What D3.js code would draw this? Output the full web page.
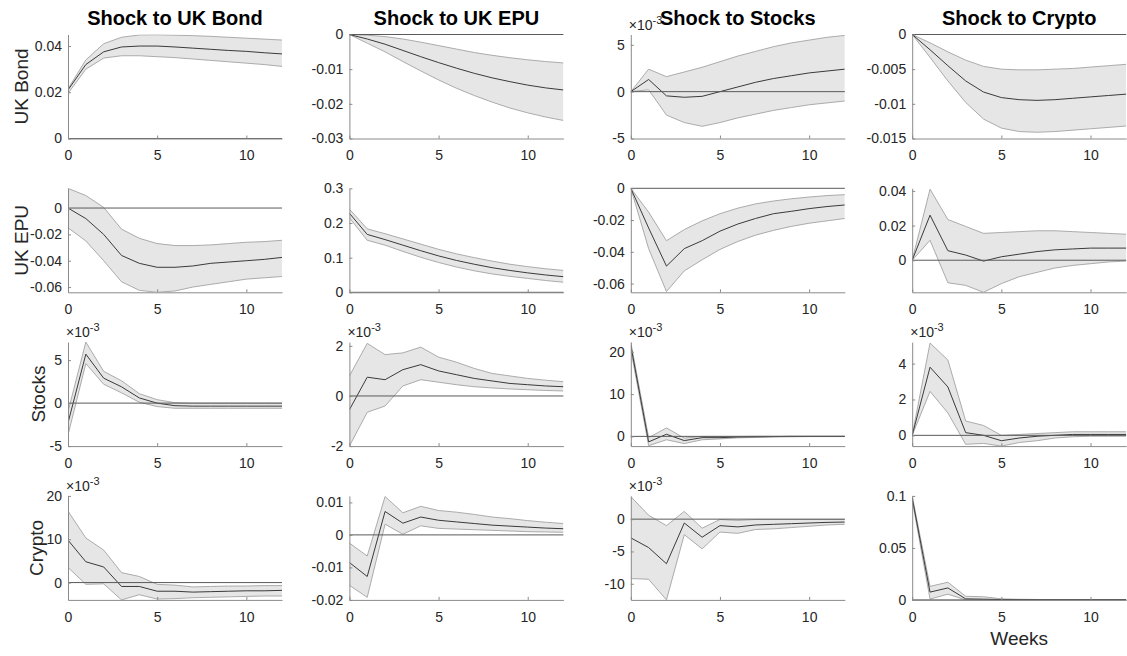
<!DOCTYPE html>
<html>
<head>
<meta charset="utf-8">
<script src="https://cdn.jsdelivr.net/npm/d3@7"></script>
<style>
  body { margin: 0; background: #fff; }
  svg { display: block; font-family: "Liberation Sans", Arial, Helvetica, sans-serif; }
</style>
</head>
<body>
<svg id="chart" width="1127" height="656"></svg>
<script>
// Horizon (weeks after the shock)
const weeks = [0, 1, 2, 3, 4, 5, 6, 7, 8, 9, 10, 11, 12];
const shockTitles = ["Shock to UK Bond", "Shock to UK EPU", "Shock to Stocks", "Shock to Crypto"];
const responseNames = ["UK Bond", "UK EPU", "Stocks", "Crypto"];

// ---- Response of UK Bond ----
const bondBondMid = [0.021, 0.032, 0.0375, 0.0396, 0.04, 0.04, 0.0396, 0.0391, 0.0386, 0.0381, 0.0377, 0.0371, 0.0366];
const bondBondHi  = [0.0215, 0.0340, 0.0410, 0.0438, 0.0448, 0.0449, 0.0447, 0.0445, 0.0442, 0.0438, 0.0434, 0.0430, 0.0426];
const bondBondLo  = [0.0195, 0.0300, 0.0348, 0.0358, 0.0358, 0.0354, 0.0350, 0.0344, 0.0338, 0.0332, 0.0326, 0.0320, 0.0312];

const bondEpuMid = [0, -0.0013, -0.0028, -0.0046, -0.0064, -0.0081, -0.0097, -0.0112, -0.0125, -0.0136, -0.0146, -0.0154, -0.0160];
const bondEpuHi  = [0, -0.0002, -0.0006, -0.0013, -0.0022, -0.0032, -0.0042, -0.0052, -0.0060, -0.0067, -0.0073, -0.0078, -0.0082];
const bondEpuLo  = [0, -0.0025, -0.0050, -0.0078, -0.0105, -0.0131, -0.0155, -0.0176, -0.0195, -0.0212, -0.0226, -0.0238, -0.0248];

// x10^-3
const bondStocksMid = [0, 1.3, -0.45, -0.6, -0.5, 0.0, 0.5, 1.0, 1.4, 1.7, 2.0, 2.2, 2.4];
const bondStocksHi  = [0, 2.4, 1.6, 2.1, 2.6, 3.2, 3.8, 4.3, 4.8, 5.2, 5.5, 5.8, 6.0];
const bondStocksLo  = [0, 0.2, -2.5, -3.3, -3.7, -3.3, -2.8, -2.4, -2.0, -1.7, -1.4, -1.2, -1.0];

const bondCryptoMid = [0, -0.0022, -0.0045, -0.0067, -0.0083, -0.0091, -0.0094, -0.0095, -0.0094, -0.0092, -0.0090, -0.0088, -0.0086];
const bondCryptoHi  = [0, -0.0012, -0.0025, -0.0037, -0.0046, -0.0050, -0.0051, -0.0051, -0.0050, -0.0049, -0.0047, -0.0045, -0.0043];
const bondCryptoLo  = [0, -0.0033, -0.0067, -0.0098, -0.0122, -0.0135, -0.0140, -0.0141, -0.0140, -0.0138, -0.0136, -0.0134, -0.0132];

// ---- Response of UK EPU ----
const epuBondMid = [0, -0.008, -0.020, -0.036, -0.042, -0.045, -0.045, -0.044, -0.042, -0.041, -0.040, -0.039, -0.0375];
const epuBondHi  = [0.015, 0.0095, 0.0005, -0.016, -0.023, -0.027, -0.0285, -0.0285, -0.028, -0.027, -0.026, -0.0255, -0.0245];
const epuBondLo  = [-0.015, -0.025, -0.040, -0.056, -0.0625, -0.064, -0.063, -0.060, -0.058, -0.056, -0.054, -0.053, -0.052];

const epuEpuMid = [0.228, 0.167, 0.152, 0.136, 0.120, 0.105, 0.092, 0.081, 0.071, 0.063, 0.056, 0.050, 0.045];
const epuEpuHi  = [0.240, 0.183, 0.169, 0.154, 0.139, 0.124, 0.111, 0.100, 0.090, 0.081, 0.074, 0.068, 0.063];
const epuEpuLo  = [0.215, 0.150, 0.136, 0.118, 0.101, 0.086, 0.073, 0.062, 0.053, 0.046, 0.040, 0.034, 0.029];

const epuStocksMid = [0, -0.025, -0.049, -0.038, -0.033, -0.027, -0.0225, -0.019, -0.016, -0.0145, -0.0128, -0.0115, -0.0105];
const epuStocksHi  = [0, -0.015, -0.033, -0.026, -0.0205, -0.016, -0.0125, -0.0098, -0.0080, -0.0066, -0.0055, -0.0046, -0.0040];
const epuStocksLo  = [0, -0.038, -0.065, -0.052, -0.045, -0.0385, -0.0335, -0.0295, -0.0265, -0.024, -0.022, -0.0205, -0.019];

const epuCryptoMid = [0, 0.026, 0.0055, 0.003, -0.0005, 0.002, 0.0035, 0.005, 0.006, 0.0065, 0.007, 0.007, 0.007];
const epuCryptoHi  = [0, 0.041, 0.0235, 0.0195, 0.0155, 0.016, 0.0165, 0.017, 0.017, 0.0165, 0.016, 0.0155, 0.015];
const epuCryptoLo  = [0, 0.0115, -0.013, -0.0145, -0.0185, -0.0135, -0.0095, -0.007, -0.0045, -0.003, -0.002, -0.001, -0.0005];

// ---- Response of Stocks (all x10^-3) ----
const stocksBondMid = [-2.3, 5.7, 2.9, 1.9, 0.6, 0.0, -0.3, -0.35, -0.35, -0.35, -0.35, -0.35, -0.35];
const stocksBondHi  = [-1.0, 7.1, 3.7, 2.6, 1.1, 0.4, 0.05, 0.0, 0.0, 0.0, 0.0, 0.0, 0.0];
const stocksBondLo  = [-3.7, 4.6, 2.2, 1.2, 0.1, -0.4, -0.6, -0.6, -0.6, -0.6, -0.6, -0.6, -0.6];

const stocksEpuMid = [-0.55, 0.75, 0.65, 1.05, 1.25, 1.0, 0.85, 0.7, 0.6, 0.5, 0.45, 0.4, 0.37];
const stocksEpuHi  = [0.8, 2.1, 1.65, 1.72, 1.95, 1.55, 1.35, 1.1, 0.9, 0.8, 0.7, 0.63, 0.57];
const stocksEpuLo  = [-2.0, -0.65, -0.4, 0.4, 0.65, 0.55, 0.45, 0.37, 0.32, 0.28, 0.25, 0.22, 0.2];

const stocksStocksMid = [21.5, -1.3, 0.5, -1.0, -0.3, -0.3, -0.15, -0.1, -0.05, 0, 0, 0, 0];
const stocksStocksHi  = [22.3, -0.3, 2.0, -0.4, 0, 0, 0, 0.05, 0.05, 0.05, 0.05, 0.05, 0.05];
const stocksStocksLo  = [20.5, -2.2, -0.8, -1.7, -0.8, -0.6, -0.35, -0.25, -0.15, -0.1, -0.05, -0.05, -0.05];

const stocksCryptoMid = [0, 3.8, 2.7, 0.15, 0, -0.3, -0.15, -0.05, 0.0, 0.05, 0.05, 0.05, 0.05];
const stocksCryptoHi  = [0, 5.15, 4.2, 0.8, 0.55, 0.0, 0.05, 0.1, 0.15, 0.2, 0.2, 0.2, 0.2];
const stocksCryptoLo  = [0, 2.45, 1.25, -0.5, -0.45, -0.6, -0.4, -0.3, -0.15, -0.08, -0.05, -0.05, -0.05];

// ---- Response of Crypto ----
// x10^-3
const cryptoBondMid = [9.8, 4.8, 3.6, -0.9, -0.9, -2.0, -2.0, -2.2, -2.1, -2.0, -1.9, -1.9, -1.8];
const cryptoBondHi  = [16.5, 10.3, 7.5, 2.3, 1.4, -0.4, -0.6, -1.0, -0.9, -0.8, -0.8, -0.7, -0.7];
const cryptoBondLo  = [3.5, -0.4, -0.3, -4.0, -2.8, -3.8, -3.7, -3.5, -3.4, -3.3, -3.2, -3.1, -3.1];

const cryptoEpuMid = [-0.0085, -0.0128, 0.0072, 0.0036, 0.0055, 0.0045, 0.004, 0.0035, 0.003, 0.0027, 0.0024, 0.0021, 0.0019];
const cryptoEpuHi  = [-0.0025, -0.0065, 0.0118, 0.0068, 0.0088, 0.0075, 0.007, 0.0063, 0.0055, 0.005, 0.0044, 0.0039, 0.0035];
const cryptoEpuLo  = [-0.0155, -0.0192, 0.0033, 0.0002, 0.0028, 0.002, 0.0018, 0.0016, 0.0014, 0.0012, 0.001, 0.0009, 0.0008];

// x10^-3
const cryptoStocksMid = [-2.9, -4.4, -6.9, -0.6, -2.8, -1.0, -1.2, -0.9, -0.8, -0.7, -0.6, -0.5, -0.45];
const cryptoStocksHi  = [3.5, 0.6, -1.0, 1.2, -1.4, -0.05, -0.2, -0.05, -0.05, -0.05, -0.05, -0.05, -0.05];
const cryptoStocksLo  = [-9.2, -9.3, -12.5, -2.4, -4.6, -2.0, -2.2, -1.6, -1.5, -1.3, -1.1, -0.9, -0.8];

const cryptoCryptoMid = [0.098, 0.0075, 0.0115, 0.001, 0.0007, 0.0003, 0.0002, 0.0001, 0.0001, 0.0001, 0.0001, 0.0001, 0.0001];
const cryptoCryptoHi  = [0.100, 0.013, 0.017, 0.0035, 0.003, 0.001, 0.0006, 0.0004, 0.0003, 0.0002, 0.0002, 0.0002, 0.0002];
const cryptoCryptoLo  = [0.096, 0.0008, 0.0055, 0, 0, 0, 0, 0, 0, 0, 0, 0, 0];

// Axis limits, tick values and exponent for each row (response) x column (shock)
const yLimits = [
  [[0, 0.045], [-0.03, 0], [-5, 6.1], [-0.015, 0]],
  [[-0.064, 0.015], [0, 0.3], [-0.0655, 0], [-0.0185, 0.0415]],
  [[-5, 7.1], [-2, 2.15], [-2.3, 22.3], [-0.6, 5.2]],
  [[-4, 20], [-0.02, 0.012], [-12.5, 3.6], [0, 0.1]]
];
const yTicks = [
  [[0, 0.02, 0.04], [-0.03, -0.02, -0.01, 0], [-5, 0, 5], [-0.015, -0.01, -0.005, 0]],
  [[-0.06, -0.04, -0.02, 0], [0, 0.1, 0.2, 0.3], [-0.06, -0.04, -0.02, 0], [0, 0.02, 0.04]],
  [[-5, 0, 5], [-2, 0, 2], [0, 10, 20], [0, 2, 4]],
  [[0, 10, 20], [-0.02, -0.01, 0, 0.01], [-10, -5, 0], [0, 0.05, 0.1]]
];
const yExponent = [
  [0, 0, -3, 0],
  [0, 0, 0, 0],
  [-3, -3, -3, -3],
  [-3, 0, -3, 0]
];
const xTicks = [0, 5, 10];

const mids = [
  [bondBondMid, bondEpuMid, bondStocksMid, bondCryptoMid],
  [epuBondMid, epuEpuMid, epuStocksMid, epuCryptoMid],
  [stocksBondMid, stocksEpuMid, stocksStocksMid, stocksCryptoMid],
  [cryptoBondMid, cryptoEpuMid, cryptoStocksMid, cryptoCryptoMid]
];
const highs = [
  [bondBondHi, bondEpuHi, bondStocksHi, bondCryptoHi],
  [epuBondHi, epuEpuHi, epuStocksHi, epuCryptoHi],
  [stocksBondHi, stocksEpuHi, stocksStocksHi, stocksCryptoHi],
  [cryptoBondHi, cryptoEpuHi, cryptoStocksHi, cryptoCryptoHi]
];
const lows = [
  [bondBondLo, bondEpuLo, bondStocksLo, bondCryptoLo],
  [epuBondLo, epuEpuLo, epuStocksLo, epuCryptoLo],
  [stocksBondLo, stocksEpuLo, stocksStocksLo, stocksCryptoLo],
  [cryptoBondLo, cryptoEpuLo, cryptoStocksLo, cryptoCryptoLo]
];

// Layout of the 4x4 grid
const layout = {
  left0: 68, colStep: 281.4, w: 214,
  top0: 34.5, rowStep: 153.8, h: 104
};
const rowLabelX = [21, 21, 38, 36];

const svg = d3.select("#chart");
const axisColor = "#8a8a8a";
const textColor = "#262626";

for (let r = 0; r < 4; r++) {
  for (let c = 0; c < 4; c++) {
    const x0 = layout.left0 + c * layout.colStep;
    const y0 = layout.top0 + r * layout.rowStep;
    const g = svg.append("g").attr("transform", `translate(${x0},${y0})`);

    const x = d3.scaleLinear().domain([0, 12]).range([0, layout.w]);
    const y = d3.scaleLinear().domain(yLimits[r][c]).range([layout.h, 0]);

    const clipId = `clip-${r}-${c}`;
    g.append("clipPath").attr("id", clipId)
      .append("rect").attr("x", 0).attr("y", 0).attr("width", layout.w).attr("height", layout.h);

    const plot = g.append("g").attr("clip-path", `url(#${clipId})`);
    const hi = highs[r][c], lo = lows[r][c], mid = mids[r][c];

    const band = d3.area()
      .x((d, i) => x(weeks[i]))
      .y0((d, i) => y(lo[i]))
      .y1((d, i) => y(hi[i]));
    plot.append("path").datum(mid).attr("d", band)
      .attr("fill", "#e6e6e6").attr("stroke", "none");

    const line = arr => d3.line().x((d, i) => x(weeks[i])).y(d => y(d))(arr);
    plot.append("path").attr("d", line(hi))
      .attr("fill", "none").attr("stroke", "#a3a3a3").attr("stroke-width", 0.9);
    plot.append("path").attr("d", line(lo))
      .attr("fill", "none").attr("stroke", "#a3a3a3").attr("stroke-width", 0.9);

    // zero reference line
    const [ymin, ymax] = yLimits[r][c];
    if (ymin <= 0 && ymax >= 0) {
      g.append("line")
        .attr("x1", x(0)).attr("x2", x(12))
        .attr("y1", y(0)).attr("y2", y(0))
        .attr("stroke", "#5a5a5a").attr("stroke-width", 1);
    }

    plot.append("path").attr("d", line(mid))
      .attr("fill", "none").attr("stroke", "#3a3a3a").attr("stroke-width", 1);

    // axes
    const yAxis = d3.axisLeft(y).tickValues(yTicks[r][c])
      .tickSizeInner(-3).tickSizeOuter(0).tickPadding(6)
      .tickFormat(v => String(v));
    const gy = g.append("g").call(yAxis);

    const xAxis = d3.axisBottom(x).tickValues(xTicks)
      .tickSizeInner(-3).tickSizeOuter(0).tickPadding(12)
      .tickFormat(v => String(v));
    const gx = g.append("g").attr("transform", `translate(0,${layout.h})`).call(xAxis);

    [gx, gy].forEach(a => {
      a.select(".domain").attr("stroke", axisColor).attr("stroke-width", 1);
      a.selectAll(".tick line").attr("stroke", axisColor);
      a.selectAll(".tick text").attr("fill", textColor)
        .style("font-size", "14px")
        .style("font-family", '"Liberation Sans", Arial, sans-serif');
    });

    // exponent label
    if (yExponent[r][c] !== 0) {
      const t = g.append("text").attr("x", -2).attr("y", -5)
        .attr("fill", textColor).style("font-size", "14px");
      t.append("tspan").text("\u00d710");
      t.append("tspan").attr("dy", -6).style("font-size", "11px").text(String(yExponent[r][c]));
    }

    if (r === 0) {
      svg.append("text")
        .attr("x", x0 + layout.w / 2).attr("y", 25)
        .attr("text-anchor", "middle")
        .attr("fill", "#000")
        .style("font-size", "20px").style("font-weight", "bold")
        .text(shockTitles[c]);
    }
    if (c === 0) {
      svg.append("text")
        .attr("transform", `translate(${rowLabelX[r]},${y0 + layout.h / 2}) rotate(-90)`)
        .attr("text-anchor", "middle")
        .attr("dominant-baseline", "central")
        .attr("fill", textColor)
        .style("font-size", "19px")
        .text(responseNames[r]);
    }
    if (r === 3 && c === 3) {
      svg.append("text")
        .attr("x", x0 + layout.w / 2).attr("y", 645)
        .attr("text-anchor", "middle")
        .attr("fill", textColor)
        .style("font-size", "19px")
        .text("Weeks");
    }
  }
}
</script>
</body>
</html>
